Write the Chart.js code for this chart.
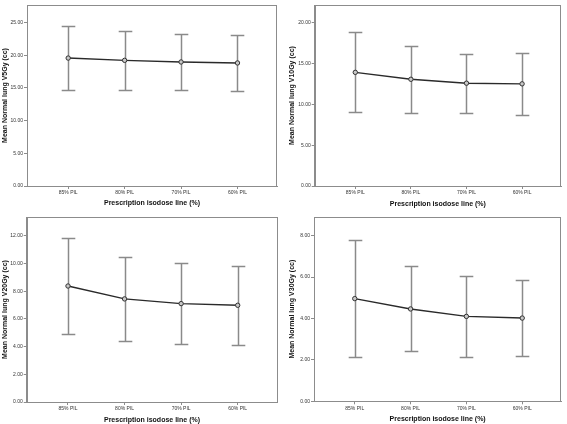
<!DOCTYPE html>
<html>
<head>
<meta charset="utf-8">
<script src="https://cdn.jsdelivr.net/npm/chart.js@4/dist/chart.umd.min.js"></script>
<style>
  html, body { margin: 0; padding: 0; background: #fff; }
  body { width: 567px; height: 424px; position: relative; overflow: hidden; }
  .panel { position: absolute; }
</style>
</head>
<body>
<div class="panel" style="left:0;top:0;width:283px;height:212px"><canvas id="c1" width="283" height="212"></canvas></div>
<div class="panel" style="left:283px;top:0;width:284px;height:212px"><canvas id="c2" width="284" height="212"></canvas></div>
<div class="panel" style="left:0;top:212px;width:283px;height:212px"><canvas id="c3" width="283" height="212"></canvas></div>
<div class="panel" style="left:283px;top:212px;width:284px;height:212px"><canvas id="c4" width="284" height="212"></canvas></div>
<script>
// ---- Data ----
const categories = ['85% PIL', '80% PIL', '70% PIL', '60% PIL'];
const xTitle = 'Prescription isodose line (%)';

const v5Title = 'Mean Normal lung V5Gy (cc)';
const v5Mean  = [19.58, 19.23, 18.98, 18.83];
const v5Upper = [24.55, 23.70, 23.20, 23.10];
const v5Lower = [14.65, 14.76, 14.76, 14.60];

const v10Title = 'Mean Normal lung V10Gy (cc)';
const v10Mean  = [13.94, 13.09, 12.61, 12.53];
const v10Upper = [18.84, 17.19, 16.22, 16.27];
const v10Lower = [9.07, 8.92, 8.92, 8.71];

const v20Title = 'Mean Normal lung V20Gy (cc)';
const v20Mean  = [8.37, 7.44, 7.10, 6.98];
const v20Upper = [11.86, 10.47, 10.00, 9.85];
const v20Lower = [4.90, 4.42, 4.18, 4.14];

const v30Title = 'Mean Normal lung V30Gy (cc)';
const v30Mean  = [4.96, 4.46, 4.10, 4.02];
const v30Upper = [7.78, 6.53, 6.05, 5.86];
const v30Lower = [2.13, 2.45, 2.14, 2.17];

// ---- Rendering ----
const FONT = "'Liberation Sans', Arial, sans-serif";
const GRAY = '#8c8c8c';

const errorBarPlugin = {
  id: 'errorBars',
  beforeDatasetsDraw(chart, args, opts) {
    const {ctx} = chart;
    const xs = chart.scales.x, ys = chart.scales.y;
    ctx.save();
    ctx.strokeStyle = opts.color;
    ctx.lineWidth = 1.5;
    const hw = opts.capHalfWidth;
    opts.lower.forEach((lo, i) => {
      const hi = opts.upper[i];
      const x = Math.round(xs.getPixelForValue(i)) + 0.5;
      const yl = Math.round(ys.getPixelForValue(lo)) + 0.5;
      const yh = Math.round(ys.getPixelForValue(hi)) + 0.5;
      ctx.beginPath();
      ctx.moveTo(x, yl); ctx.lineTo(x, yh);
      ctx.moveTo(x - hw, yl); ctx.lineTo(x + hw, yl);
      ctx.moveTo(x - hw, yh); ctx.lineTo(x + hw, yh);
      ctx.stroke();
    });
    ctx.restore();
  },
  afterDraw(chart) {
    const {ctx, chartArea: a} = chart;
    ctx.save();
    ctx.strokeStyle = GRAY;
    ctx.lineWidth = 1;
    ctx.strokeRect(Math.round(a.left) + 0.5, Math.round(a.top) + 0.5,
                   Math.round(a.right - a.left) - 1, Math.round(a.bottom - a.top));
    ctx.restore();
  }
};

function makeChart(id, yTitleText, mean, upper, lower, yMax, yStep, geo) {
  const data = mean.map((m, i) => ({x: i, y: m}));
  new Chart(document.getElementById(id), {
    type: 'line',
    data: {
      datasets: [{
        data: data,
        borderColor: '#2a2a2a',
        borderWidth: 1.4,
        tension: 0,
        pointRadius: 2.2,
        pointBorderWidth: 1,
        pointBorderColor: '#333',
        pointBackgroundColor: '#c8c8c8'
      }]
    },
    plugins: [errorBarPlugin],
    options: {
      responsive: false,
      animation: false,
      events: [],
      layout: { padding: { top: geo.top, right: geo.right, bottom: 0, left: 0 } },
      plugins: {
        legend: { display: false },
        tooltip: { enabled: false },
        errorBars: { upper: upper, lower: lower, color: '#8a8a8a', capHalfWidth: 6.8 }
      },
      scales: {
        x: {
          type: 'linear',
          min: -0.73,
          max: 3.7,
          afterFit(s) { s.height = geo.xh; },
          ticks: {
            stepSize: 1,
            includeBounds: false,
            autoSkip: false,
            maxRotation: 0,
            padding: 1,
            color: '#333',
            font: { family: FONT, size: 5 },
            callback: (v) => categories[v] !== undefined ? categories[v] : ''
          },
          grid: { display: true, drawOnChartArea: false, drawTicks: true, tickLength: 3, color: GRAY },
          border: { display: true, color: GRAY },
          title: {
            display: true, text: xTitle, color: '#111',
            font: { family: FONT, size: 7, weight: 'bold' },
            padding: { top: 0, bottom: geo.xtp }
          }
        },
        y: {
          min: 0,
          max: yMax,
          afterFit(s) { s.width = geo.yw; },
          ticks: {
            stepSize: yStep,
            includeBounds: false,
            padding: 1,
            color: '#333',
            font: { family: FONT, size: 5 },
            callback: (v) => Number(v).toFixed(2)
          },
          grid: { display: true, drawOnChartArea: false, drawTicks: true, tickLength: 3, color: GRAY },
          border: { display: true, color: GRAY },
          title: {
            display: true, text: yTitleText, color: '#111',
            font: { family: FONT, size: 7, weight: 'bold' },
            padding: { top: geo.ytp, bottom: 0 }
          }
        }
      }
    }
  });
}

makeChart('c1', v5Title,  v5Mean,  v5Upper,  v5Lower,  27.7, 5, {top: 2, right: 6,   yw: 27,   xh: 26,   xtp: 4.5, ytp: 0.8});
makeChart('c2', v10Title, v10Mean, v10Upper, v10Lower, 22.2, 5, {top: 2, right: 6,   yw: 31.7, xh: 26,   xtp: 3.8, ytp: 4.8});
makeChart('c3', v20Title, v20Mean, v20Upper, v20Lower, 13.35, 2, {top: 4, right: 5.7, yw: 26.7, xh: 22,   xtp: 0,   ytp: 0.8});
makeChart('c4', v30Title, v30Mean, v30Upper, v30Lower, 8.9, 2,  {top: 4, right: 5.7, yw: 31,   xh: 22.7, xtp: 0.5, ytp: 5});
</script>
</body>
</html>
